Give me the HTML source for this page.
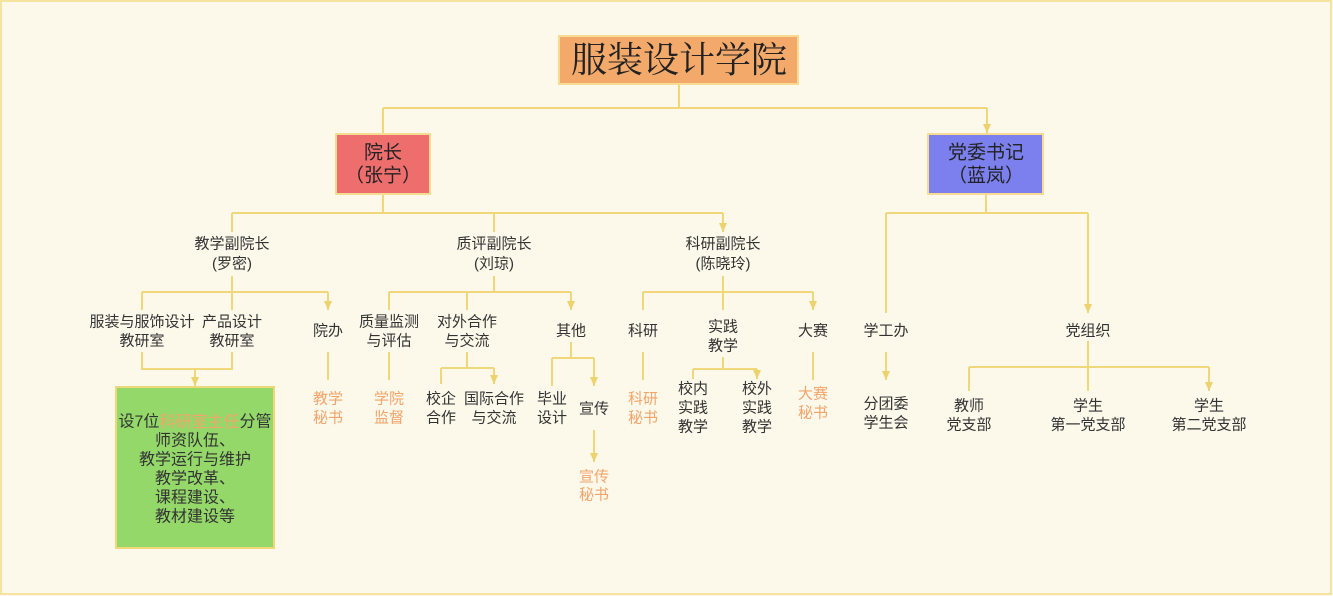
<!DOCTYPE html>
<html><head><meta charset="utf-8"><style>
html,body{margin:0;padding:0;background:#fcf8ea;}
svg{display:block}
text{font-family:"Liberation Sans","Noto Sans CJK SC",sans-serif;fill:#333;text-anchor:middle;dominant-baseline:central;font-size:15px}
.o{fill:#f2a46a}
</style></head><body>
<svg width="1333" height="596" viewBox="0 0 1333 596" xmlns="http://www.w3.org/2000/svg">
<defs>
<marker id="b" markerUnits="userSpaceOnUse" markerWidth="10" markerHeight="10" refX="9" refY="5" orient="auto" viewBox="0 0 10 10">
<path d="M0,1 L9,5 L0,9 Z" fill="#ecd36e"/>
</marker>
</defs>
<rect x="1" y="1" width="1330" height="593" fill="#fcf8ea" stroke="#f5e3a0" stroke-width="2"/>
<g fill="none" stroke="#efd77a" stroke-width="2">
<path d="M679 84V108M383 108H987"/>
<path d="M383 108V133M987 108V133" marker-end="url(#b)"/>
<path d="M383 194V213M232 213H723"/>
<path d="M232 213V232M494 213V232M723 213V232" marker-end="url(#b)"/>
<path d="M986 194V213M886 213H1088"/>
<path d="M886 213V313M1088 213V313" marker-end="url(#b)"/>
<path d="M232 276V292M142 292H328"/>
<path d="M142 292V310M232 292V310M328 292V310" marker-end="url(#b)"/>
<path d="M494 276V292M389 292H571"/>
<path d="M389 292V310M467 292V310M571 292V310" marker-end="url(#b)"/>
<path d="M723 276V292M643 292H813"/>
<path d="M643 292V310M723 292V310M813 292V310" marker-end="url(#b)"/>
<path d="M142 352V369H232V352M195 369V386" />
<path d="M195 369V386" marker-end="url(#b)"/>
<path d="M328 352V380M389 352V380M643 352V380M813 352V380M886 352V380" marker-end="url(#b)"/>
<path d="M467 352V368M441 368H494"/>
<path d="M441 368V384M494 368V384" marker-end="url(#b)"/>
<path d="M571 342V358M552 358H594"/>
<path d="M552 358V386M594 358V386" marker-end="url(#b)"/>
<path d="M594 430V462" marker-end="url(#b)"/>
<path d="M723 357V369M693 369H757"/>
<path d="M693 369V379M757 369V379" marker-end="url(#b)"/>
<path d="M1088 341V367M969 367H1209"/>
<path d="M969 367V391M1088 367V391M1209 367V391" marker-end="url(#b)"/>
</g>
<rect x="559" y="36" width="239" height="48" fill="#f3a96a" stroke="#f6dc90" stroke-width="2"/>
<text x="679" y="60" style="font-family:'Liberation Serif','Noto Serif CJK SC',serif;font-size:36px;fill:#222">服装设计学院</text>
<rect x="336" y="134" width="94" height="60" fill="#ee6e6e" stroke="#f6dc90" stroke-width="2"/>
<text x="383" y="153" style="font-size:19px;fill:#222">院长</text>
<text x="383" y="176" style="font-size:19px;fill:#222">（张宁）</text>
<rect x="928" y="134" width="115" height="60" fill="#7b80ee" stroke="#f6dc90" stroke-width="2"/>
<text x="986" y="153" style="font-size:19px;fill:#222">党委书记</text>
<text x="986" y="176" style="font-size:19px;fill:#222">（蓝岚）</text>
<rect x="116" y="387" width="158" height="161" fill="#94d86a" stroke="#f0d878" stroke-width="2"/>
<text x="232" y="244">教学副院长</text><text x="232" y="264">(罗密)</text>
<text x="494" y="244">质评副院长</text><text x="494" y="264">(刘琼)</text>
<text x="723" y="244">科研副院长</text><text x="723" y="264">(陈晓玲)</text>
<text x="142" y="322">服装与服饰设计</text><text x="142" y="341">教研室</text>
<text x="232" y="322">产品设计</text><text x="232" y="341">教研室</text>
<text x="328" y="331">院办</text>
<text x="389" y="322">质量监测</text><text x="389" y="341">与评估</text>
<text x="467" y="322">对外合作</text><text x="467" y="341">与交流</text>
<text x="571" y="331">其他</text>
<text x="643" y="331">科研</text>
<text x="723" y="327">实践</text><text x="723" y="346">教学</text>
<text x="813" y="331">大赛</text>
<text x="886" y="331">学工办</text>
<text x="1088" y="331">党组织</text>
<text class="o" x="328" y="399">教学</text><text class="o" x="328" y="418">秘书</text>
<text class="o" x="389" y="399">学院</text><text class="o" x="389" y="418">监督</text>
<text x="441" y="399">校企</text><text x="441" y="418">合作</text>
<text x="494" y="399">国际合作</text><text x="494" y="418">与交流</text>
<text x="552" y="399">毕业</text><text x="552" y="418">设计</text>
<text x="594" y="409">宣传</text>
<text class="o" x="594" y="477">宣传</text><text class="o" x="594" y="495">秘书</text>
<text class="o" x="643" y="399">科研</text><text class="o" x="643" y="418">秘书</text>
<text x="693" y="389">校内</text><text x="693" y="408">实践</text><text x="693" y="427">教学</text>
<text x="757" y="389">校外</text><text x="757" y="408">实践</text><text x="757" y="427">教学</text>
<text class="o" x="813" y="394">大赛</text><text class="o" x="813" y="413">秘书</text>
<text x="886" y="404">分团委</text><text x="886" y="423">学生会</text>
<text x="969" y="406">教师</text><text x="969" y="425">党支部</text>
<text x="1088" y="406">学生</text><text x="1088" y="425">第一党支部</text>
<text x="1209" y="406">学生</text><text x="1209" y="425">第二党支部</text>
<text x="195" y="422" style="font-size:16px">设7位<tspan class="o">科研室主任</tspan>分管</text>
<text x="195" y="441" style="font-size:16px">师资队伍、</text>
<text x="195" y="460" style="font-size:16px">教学运行与维护</text>
<text x="195" y="479" style="font-size:16px">教学改革、</text>
<text x="195" y="498" style="font-size:16px">课程建设、</text>
<text x="195" y="517" style="font-size:16px">教材建设等</text>
</svg>
</body></html>
